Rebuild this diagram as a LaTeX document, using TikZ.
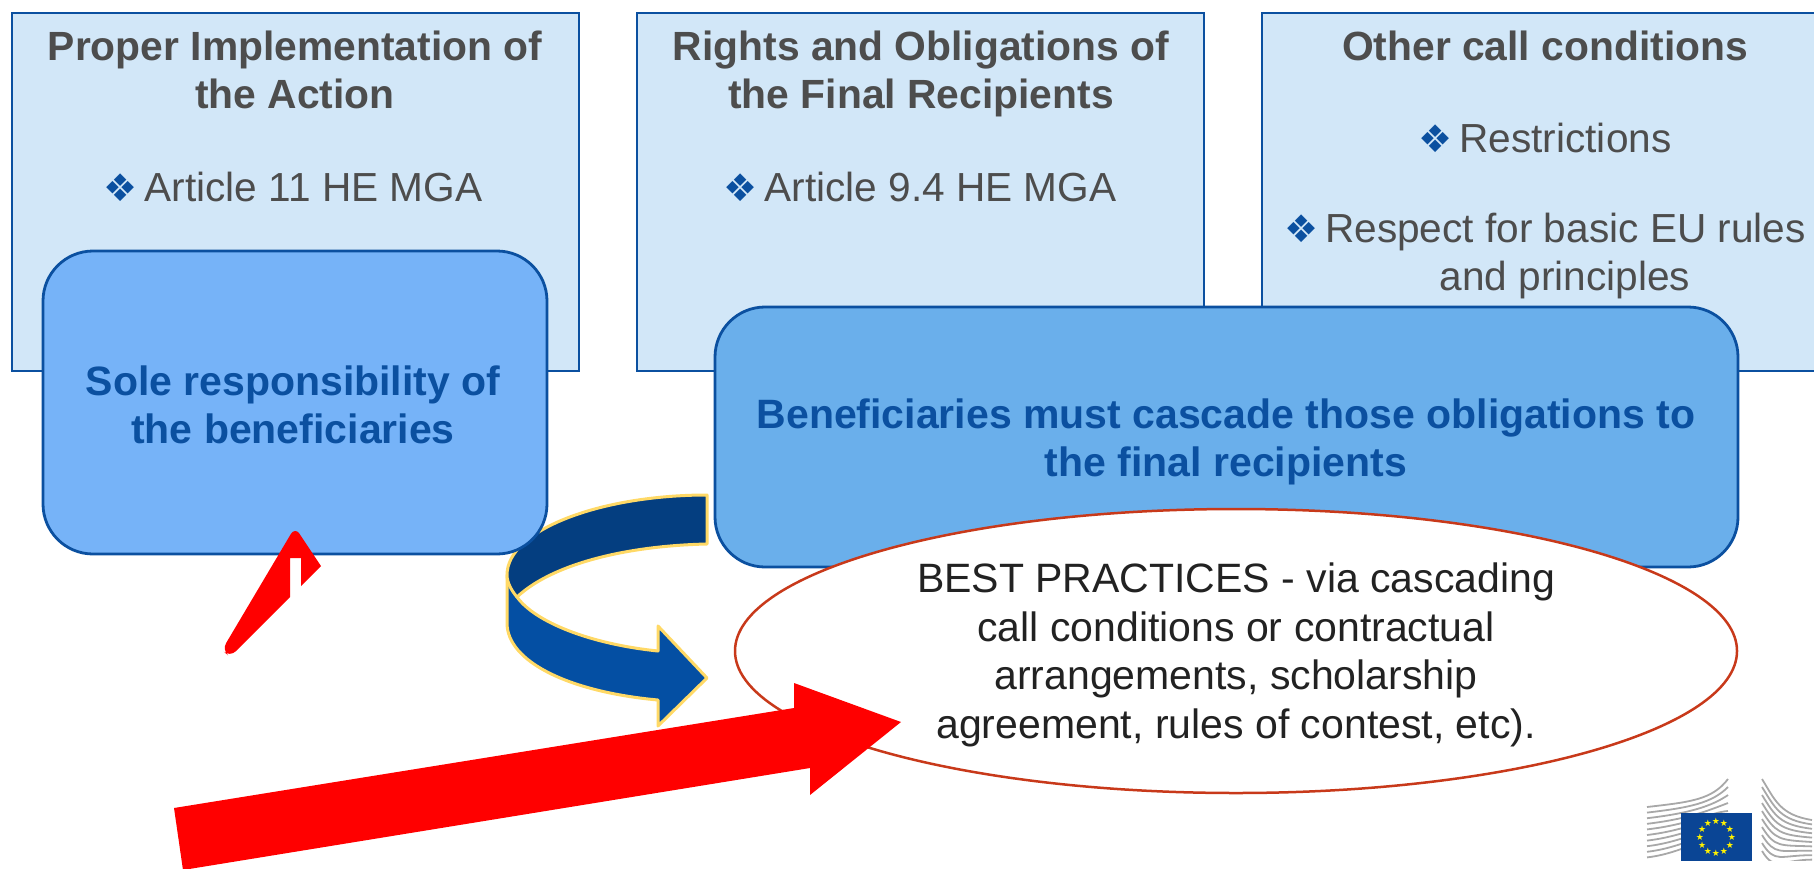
\documentclass[tikz,border=0pt]{standalone}
\usepackage{fontspec}
\setmainfont{Liberation Sans}
\newfontfamily\symfont{DejaVu Sans}
\usetikzlibrary{calc}
\definecolor{boxfill}{HTML}{D2E7F8}
\definecolor{edgeblue}{HTML}{0B50A0}
\definecolor{softblue}{HTML}{76B3F8}
\definecolor{midblue}{HTML}{6AAFEB}
\definecolor{txtgray}{HTML}{4D4D4D}
\definecolor{txtdark}{HTML}{222222}
\definecolor{ovalred}{HTML}{C8391A}
\definecolor{goldline}{HTML}{FFD966}
\definecolor{darkarrow}{HTML}{043E80}
\definecolor{lowarrow}{HTML}{044FA3}
\definecolor{flagblue}{HTML}{0A4595}
\definecolor{logogray}{HTML}{A8A8A8}
\newcommand{\bul}{{\symfont\color{edgeblue}\fontsize{19}{19}\selectfont ❖}}
\tikzset{
  x=0.5pt,y=-0.5pt,
  panel/.style={draw=edgeblue,line width=1pt,fill=boxfill},
  softbox/.style={draw=edgeblue,line width=1.4pt,rounded corners=25pt},
  title/.style={font=\fontsize{20.4}{24}\selectfont\bfseries,text=txtgray,align=center,inner sep=0pt},
  bodytext/.style={font=\fontsize{20.3}{24}\selectfont,text=txtgray,align=center,inner sep=0pt},
  calltext/.style={font=\fontsize{20.5}{24}\selectfont\bfseries,text=edgeblue,align=center,inner sep=0pt},
  ovaltext/.style={font=\fontsize{20.5}{24}\selectfont,text=txtdark,align=center,inner sep=0pt},
  bandline/.style={draw=goldline,line width=1.5pt,line join=round},
  logoline/.style={draw=logogray,line width=0.9pt},
}
\begin{document}
\begin{tikzpicture}
\useasboundingbox (0,0) rectangle (1814,868);
\clip (0,0) rectangle (1814,868);
% panels
\path[panel] (11.5,13) rectangle (579,371);
\path[panel] (636.5,13) rectangle (1204,371);
\path[panel] (1262,13) rectangle (1840,371);
\node[title] (t1) at (295,70) {Proper Implementation of\\the Action};
\node[bodytext] (b1) at (293,187) {\bul\hspace{3.4pt}Article 11 HE MGA};
\node[title] (t2) at (921,74) {Rights and Obligations of\\the Final Recipients};
\node[bodytext] (b2) at (920,187) {\bul\hspace{3.4pt}Article 9.4 HE MGA};
\node[title] (t3) at (1545,46) {Other call conditions};
\node[bodytext] (b3) at (1545,138) {\bul\,Restrictions};
\node[bodytext] (b4) at (1545,232) {\bul\hspace{3.4pt}Respect for basic EU rules};
\node[bodytext] (b5) at (1565,280) {and principles};
% curved arrow (below the rounded box)
\path[bandline,fill=lowarrow] (507,575) -- (507,623)
  .. controls (507,662) and (570,692) .. (658,700)
  -- (658,726) -- (707,678) -- (658,626) -- (658,651)
  .. controls (590,644) and (535,622) .. (517,597)
  -- cycle;
\path[bandline,fill=darkarrow] (707,495) -- (707,544)
  .. controls (620,546) and (550,566) .. (517,597)
  .. controls (511,590) and (507,582) .. (507,575)
  .. controls (507,530) and (600,495) .. (707,495) -- cycle;
% rounded boxes
\path[softbox,fill=softblue] (43,251) rectangle (547,554);
\node[calltext] (c1) at (293,405) {Sole responsibility of\\the beneficiaries};
\path[softbox,fill=midblue] (715,307) rectangle (1738,567);
\node[calltext] (c2) at (1226,441.5) {Beneficiaries must cascade those obligations to\\the final recipients};
% oval
\path[draw=ovalred,line width=1.25pt,fill=white] (1236,651) ellipse [x radius=501,y radius=142];
\node[ovaltext] (o1) at (1236,655) {BEST PRACTICES - via cascading\\[0.3pt]call conditions or contractual\\[0.3pt]arrangements, scholarship\\[0.3pt]agreement, rules of contest, etc).};
% small red arrow
\fill[red] (321,566) -- (301,586) -- (301,558) -- (290,558) -- (290,597)
  [rounded corners=4pt] -- (230,657) -- (222,650) -- (295,527)
  [sharp corners] -- (321,566) -- cycle;
% big red arrow
\fill[red] (174,808) -- (794,708) -- (794,683) -- (901,722) -- (810,795) -- (810,768) -- (183,870) -- cycle;
% logo
\foreach \i in {0,...,9} {
  \draw[logoline] (1647,{807+5.6*\i}) .. controls (1690,{802+5.6*\i}) and (1712,{800+3*\i}) .. (1728,{779+8*\i});
  \draw[logoline] (1762,{779+8*\i}) .. controls (1775,{800+8*\i}) and (1780,{815+5*\i}) .. (1812,{820+4.4*\i});
}
\fill[white] (1640,861) rectangle (1814,868);
\fill[flagblue] (1681,813) rectangle (1752,861);
\foreach \a in {0,30,...,330} {
  \node[font=\symfont\fontsize{4.5}{4.5}\selectfont,text=yellow,inner sep=0pt] (star\a) at ({1716+16*cos(\a)},{837+16*sin(\a)}) {★};
}
\end{tikzpicture}
\end{document}
